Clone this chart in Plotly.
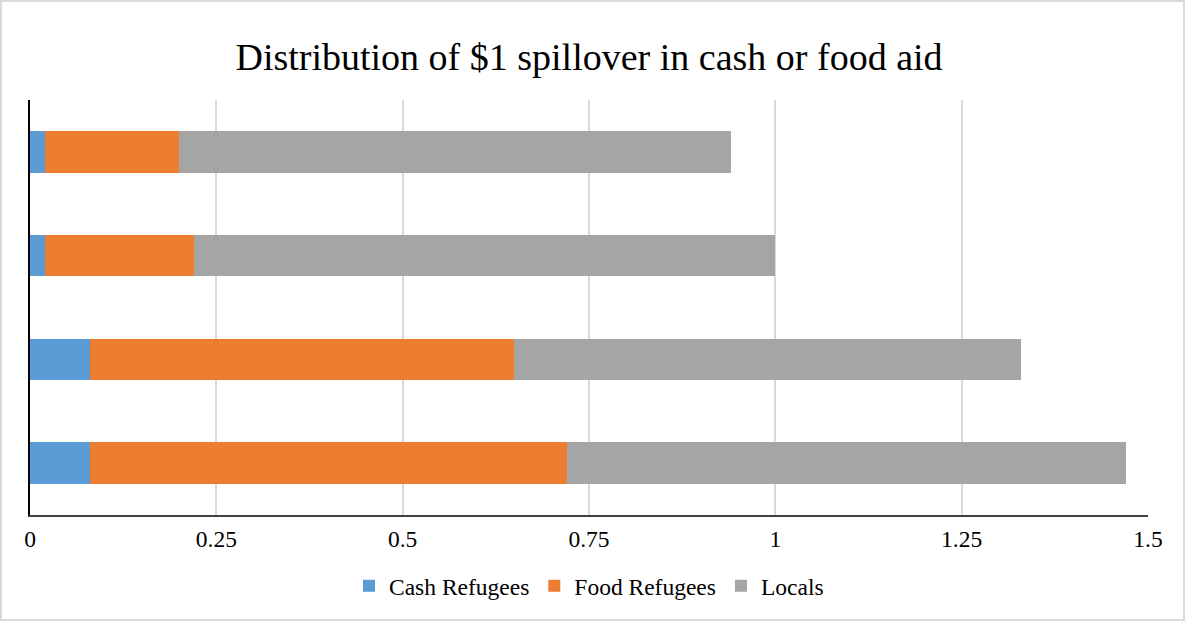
import plotly.graph_objects as go

# Scenarios, listed from the bottom bar to the top bar
scenarios = ["S4", "S3", "S2", "S1"]

# Share of each $1 that spills over to each group
cash_refugees = [0.08, 0.08, 0.02, 0.02]
food_refugees = [0.64, 0.57, 0.20, 0.18]
locals_ = [0.75, 0.68, 0.78, 0.74]

series = [
    ("Cash Refugees", cash_refugees, "#5B9BD5"),
    ("Food Refugees", food_refugees, "#ED7D31"),
    ("Locals", locals_, "#A5A5A5"),
]

W, H = 1185, 621
ML, MR, MT, MB = 30, 37, 100, 106
FONT = "Liberation Serif"

fig = go.Figure()
for name, vals, color in series:
    fig.add_trace(go.Bar(
        y=scenarios, x=vals, name=name, orientation="h",
        marker=dict(color=color, line=dict(width=0)),
    ))

pw = W - ML - MR
ph = H - MT - MB

fig.update_layout(
    width=W, height=H,
    barmode="stack", bargap=0.6,
    margin=dict(l=ML, r=MR, t=MT, b=MB),
    paper_bgcolor="white", plot_bgcolor="white",
    font=dict(family=FONT, color="#000000", size=22),
    title=dict(
        text="Distribution of $1 spillover in cash or food aid",
        x=0.5, xref="paper", xanchor="center",
        y=1 - 57 / H, yref="container", yanchor="middle",
        font=dict(family=FONT, size=38, color="#000000"),
    ),
    xaxis=dict(
        range=[0, 1.5], dtick=0.25, tick0=0,
        showgrid=True, gridcolor="#D9D9D9", gridwidth=1.5,
        zeroline=False,
        showline=True, linecolor="#404040", linewidth=1.5,
        ticks="", ticklabelstandoff=2,
        tickfont=dict(family=FONT, size=23.5, color="#000000"),
    ),
    yaxis=dict(
        showticklabels=False, showgrid=False, zeroline=False,
        showline=True, linecolor="#000000", linewidth=2,
        ticks="",
    ),
    legend=dict(
        orientation="h", x=0.5, xanchor="center",
        y=-(586 - (H - MB)) / ph, yanchor="middle",
        font=dict(family=FONT, size=23.5, color="#000000"),
        traceorder="normal",
    ),
    showlegend=True,
)

# Thin grey frame around the whole chart
fig.add_shape(
    type="rect", xref="paper", yref="paper",
    x0=-(ML - 1) / pw, x1=1 + (MR - 1) / pw,
    y0=-(MB - 1) / ph, y1=1 + (MT - 1) / ph,
    line=dict(color="#D9D9D9", width=2), fillcolor="rgba(0,0,0,0)",
    layer="below",
)

fig.write_html("out.html")
